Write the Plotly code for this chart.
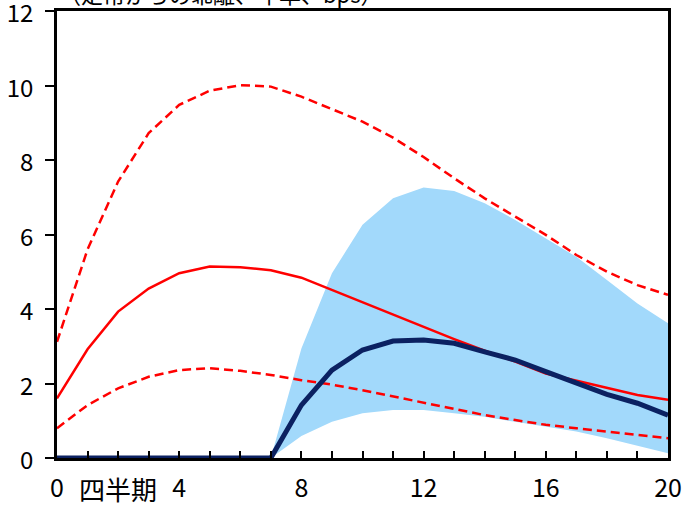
import plotly.graph_objects as go

# Quarters after the shock
quarters = list(range(21))

# Red model path (median) and its band
red_median = [1.60, 2.92, 3.93, 4.55, 4.96, 5.14, 5.12, 5.04, 4.84, 4.51, 4.18, 3.84, 3.53,
              3.19, 2.88, 2.59, 2.27, 2.07, 1.87, 1.69, 1.56]
red_upper = [3.12, 5.60, 7.42, 8.72, 9.48, 9.86, 10.01, 9.97, 9.70, 9.36, 9.03, 8.60, 8.08,
             7.51, 6.97, 6.48, 5.99, 5.45, 5.00, 4.64, 4.38]
red_lower = [0.80, 1.42, 1.87, 2.18, 2.36, 2.41, 2.34, 2.23, 2.09, 1.97, 1.82, 1.65, 1.47,
             1.31, 1.15, 1.02, 0.89, 0.80, 0.71, 0.62, 0.53]

# Navy path and its shaded band
navy_path = [0, 0, 0, 0, 0, 0, 0, 0, 1.42, 2.36, 2.90, 3.14, 3.17, 3.08, 2.85, 2.63, 2.32,
             2.02, 1.71, 1.47, 1.15]
band_quarters = list(range(7, 21))
band_upper = [0, 2.94, 4.96, 6.26, 6.97, 7.26, 7.17, 6.84, 6.39, 5.90, 5.40, 4.78, 4.15, 3.62]
band_lower = [0, 0.59, 0.97, 1.20, 1.29, 1.29, 1.20, 1.11, 0.97, 0.84, 0.71, 0.53, 0.32, 0.13]

# Axis ticks
x_tick_vals = list(range(21))
x_tick_text = [str(q) if q % 4 == 0 else "" for q in x_tick_vals]
y_tick_vals = [0, 2, 4, 6, 8, 10, 12]

title_text = "（定常からの乖離、年率、bps）"
x_unit_text = "四半期"

RED = "#ff0000"
NAVY = "#0b2161"
BAND = "#a2d9fb"
NUM_FONT = "Noto Sans CJK JP, sans-serif"
CJK_FONT = "Noto Sans CJK JP, sans-serif"

fig = go.Figure()

fig.add_trace(go.Scatter(x=band_quarters, y=band_lower, mode="lines",
                         line=dict(width=0, color=BAND), showlegend=False, hoverinfo="skip"))
fig.add_trace(go.Scatter(x=band_quarters, y=band_upper, mode="lines", fill="tonexty",
                         fillcolor=BAND, line=dict(width=0, color=BAND), showlegend=False))

fig.add_trace(go.Scatter(x=quarters, y=red_upper, mode="lines",
                         line=dict(color=RED, width=2.5, dash="9px,5px"), showlegend=False))
fig.add_trace(go.Scatter(x=quarters, y=red_lower, mode="lines",
                         line=dict(color=RED, width=2.5, dash="9px,5px"), showlegend=False))
fig.add_trace(go.Scatter(x=quarters, y=red_median, mode="lines",
                         line=dict(color=RED, width=2.5), showlegend=False))
fig.add_trace(go.Scatter(x=quarters, y=navy_path, mode="lines",
                         line=dict(color=NAVY, width=5), showlegend=False, cliponaxis=False))

fig.add_annotation(text=title_text, xref="paper", yref="paper", x=0.0, y=1.040,
                   xanchor="left", yanchor="middle", showarrow=False,
                   font=dict(family=CJK_FONT, size=22, color="black"))
fig.add_annotation(text=x_unit_text, xref="paper", yref="paper", x=0.100, y=-0.069,
                   xanchor="center", yanchor="middle", showarrow=False,
                   font=dict(family=CJK_FONT, size=26, color="black"))

fig.update_layout(
    width=685, height=509,
    margin=dict(l=57, r=17, t=11, b=51, autoexpand=False),
    paper_bgcolor="white", plot_bgcolor="white",
    showlegend=False,
    xaxis=dict(range=[0, 20], tickvals=x_tick_vals, ticktext=x_tick_text,
               ticks="inside", ticklen=7, tickwidth=2, tickcolor="black",
               showline=True, linecolor="black", linewidth=2.5, mirror=True,
               showgrid=False, zeroline=False, ticklabelstandoff=6,
               ticklabeloverflow="allow", automargin=False,
               tickfont=dict(family=NUM_FONT, size=25, color="black")),
    yaxis=dict(range=[0, 12], tickvals=y_tick_vals,
               ticks="outside", ticklen=9, tickwidth=2, tickcolor="black",
               showline=True, linecolor="black", linewidth=2.5, mirror=True,
               showgrid=False, zeroline=False, ticklabelstandoff=7, ticklabelshift=3,
               ticklabeloverflow="allow", automargin=False,
               tickfont=dict(family=NUM_FONT, size=24, color="black")),
)

fig.write_html("out.html")
